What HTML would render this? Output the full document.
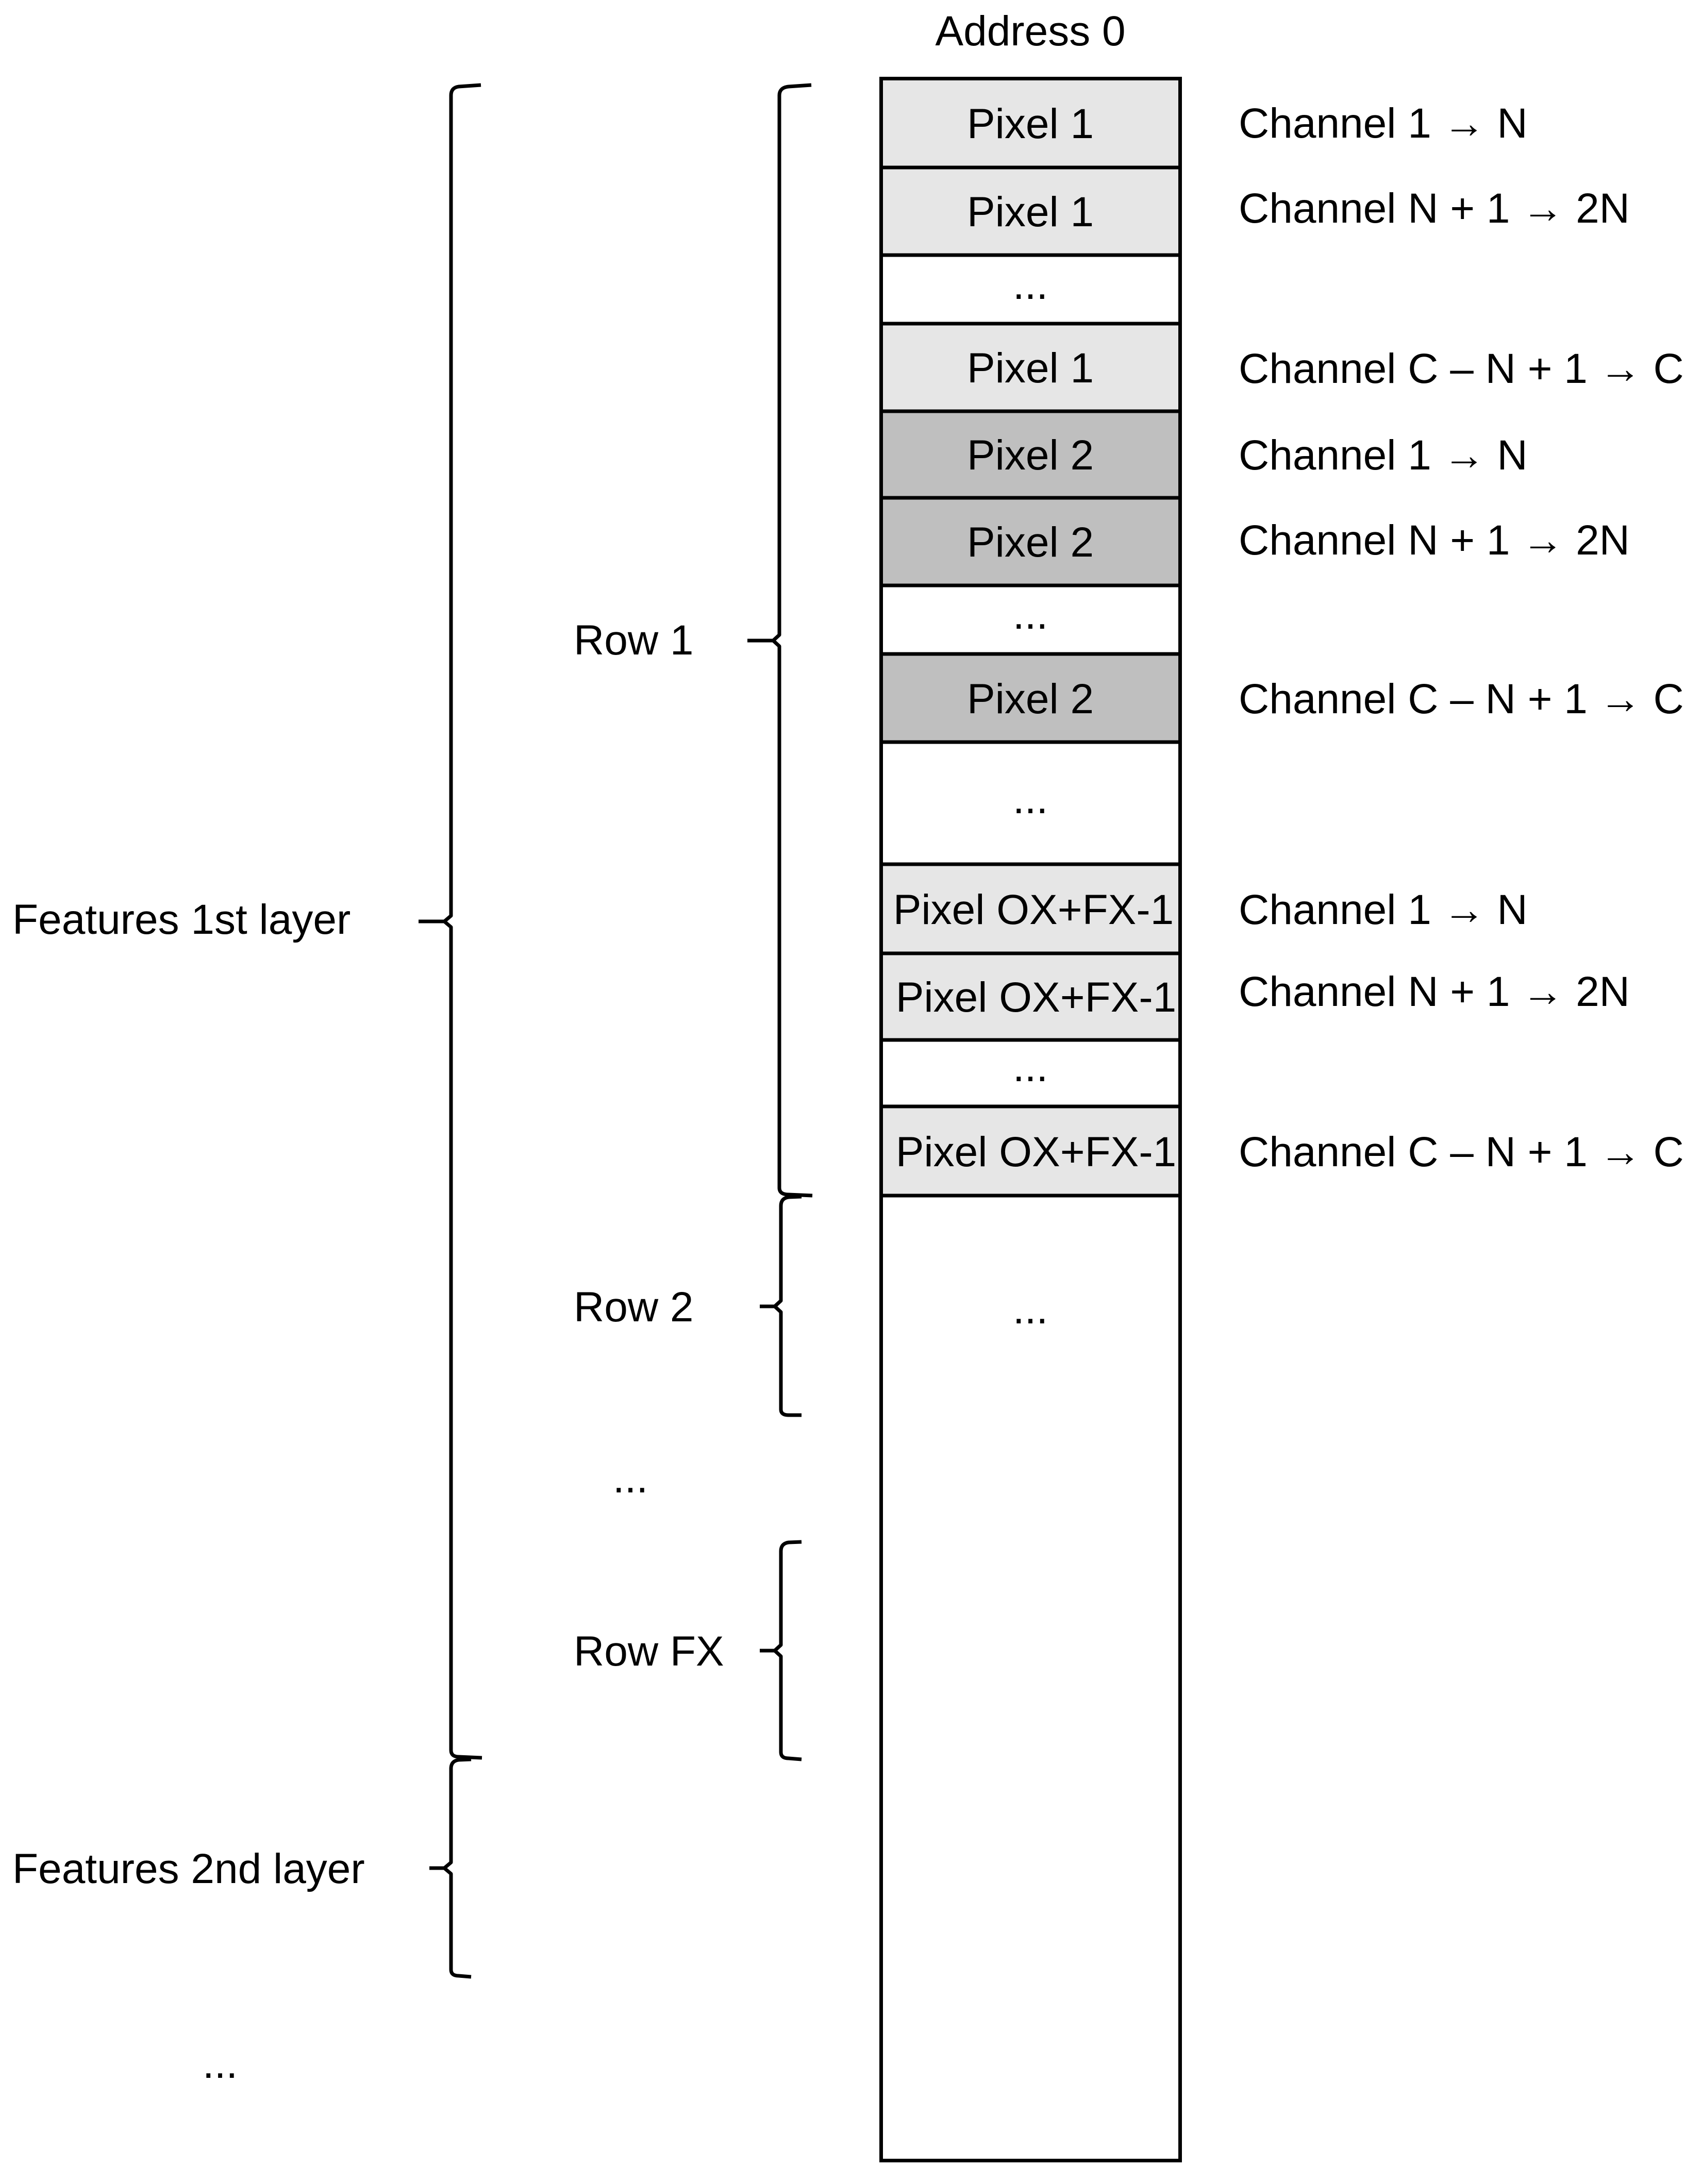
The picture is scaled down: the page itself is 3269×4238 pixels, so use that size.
<!DOCTYPE html>
<html><head><meta charset="utf-8"><style>
html,body{margin:0;padding:0;background:#fff;}
svg{display:block;}
text{font-family:"Liberation Sans",sans-serif;font-size:82px;fill:#000;}
</style></head><body>
<svg width="3269" height="4238" viewBox="0 0 3269 4238" xmlns="http://www.w3.org/2000/svg">
<!-- cell fills -->
<rect x="1709" y="153" width="580" height="172" fill="#e6e6e6"/>
<rect x="1709" y="325" width="580" height="170" fill="#e6e6e6"/>
<rect x="1709" y="628" width="580" height="170" fill="#e6e6e6"/>
<rect x="1709" y="798" width="580" height="168" fill="#bfbfbf"/>
<rect x="1709" y="966" width="580" height="170" fill="#bfbfbf"/>
<rect x="1709" y="1269" width="580" height="171" fill="#bfbfbf"/>
<rect x="1709" y="1677" width="580" height="173" fill="#e6e6e6"/>
<rect x="1709" y="1850" width="580" height="168" fill="#e6e6e6"/>
<rect x="1709" y="2147" width="580" height="173" fill="#e6e6e6"/>
<!-- column outline -->
<rect x="1709.5" y="152.5" width="580" height="4040" fill="none" stroke="#000" stroke-width="7"/>
<g stroke="#000" stroke-width="7">
<line x1="1706" x2="2293" y1="325" y2="325"/>
<line x1="1706" x2="2293" y1="495" y2="495"/>
<line x1="1706" x2="2293" y1="628" y2="628"/>
<line x1="1706" x2="2293" y1="798" y2="798"/>
<line x1="1706" x2="2293" y1="966" y2="966"/>
<line x1="1706" x2="2293" y1="1136" y2="1136"/>
<line x1="1706" x2="2293" y1="1269" y2="1269"/>
<line x1="1706" x2="2293" y1="1440" y2="1440"/>
<line x1="1706" x2="2293" y1="1677" y2="1677"/>
<line x1="1706" x2="2293" y1="1850" y2="1850"/>
<line x1="1706" x2="2293" y1="2018" y2="2018"/>
<line x1="1706" x2="2293" y1="2147" y2="2147"/>
<line x1="1706" x2="2293" y1="2320" y2="2320"/>
</g>
<!-- brackets -->
<g fill="none" stroke="#000" stroke-width="7" stroke-linejoin="round">
<!-- Row 1 -->
<path d="M1574 165 L1530 168 Q1512 170 1512 185 L1512 1232 L1500 1243 L1450 1243 M1500 1243 L1512 1254 L1512 2305 Q1512 2318 1530 2318 L1576 2320"/>
<!-- Row 2 -->
<path d="M1555 2322 L1530 2323 Q1515 2325 1515 2340 L1515 2524 L1503 2535 L1474 2535 M1503 2535 L1515 2546 L1515 2735 Q1515 2746 1530 2746 L1555 2746"/>
<!-- Row FX -->
<path d="M1555 2992 L1530 2993 Q1515 2995 1515 3010 L1515 3192 L1503 3203 L1474 3203 M1503 3203 L1515 3214 L1515 3400 Q1515 3412 1530 3412 L1555 3414"/>
<!-- Features 1st -->
<path d="M933 165 L890 168 Q875 170 875 185 L875 1777 L862 1788 L812 1788 M862 1788 L875 1799 L875 3396 Q875 3409 890 3409 L935 3411"/>
<!-- Features 2nd -->
<path d="M914 3414 L890 3415 Q875 3417 875 3432 L875 3614 L862 3625 L833 3625 M862 3625 L875 3636 L875 3822 Q875 3834 890 3834 L914 3836"/>
</g>
<!-- column texts -->
<g text-anchor="middle">
<text x="1999" y="88">Address 0</text>
<text x="1999" y="268">Pixel 1</text>
<text x="1999" y="439">Pixel 1</text>
<text x="1999" y="580">...</text>
<text x="1999" y="742">Pixel 1</text>
<text x="1999" y="911">Pixel 2</text>
<text x="1999" y="1080">Pixel 2</text>
<text x="1999" y="1220">...</text>
<text x="1999" y="1384">Pixel 2</text>
<text x="1999" y="1578">...</text>
<text x="2005" y="1793">Pixel OX+FX-1</text>
<text x="2010" y="1963">Pixel OX+FX-1</text>
<text x="1999" y="2098">...</text>
<text x="2010" y="2263">Pixel OX+FX-1</text>
<text x="1999" y="2568">...</text>
<text x="1223" y="2896">...</text>
<text x="427" y="4032">...</text>
</g>
<!-- channel labels -->
<g>
<text x="2403" y="267">Channel 1 → N</text>
<text x="2403" y="432">Channel N + 1 → 2N</text>
<text x="2403" y="743">Channel C – N + 1 → C</text>
<text x="2403" y="911">Channel 1 → N</text>
<text x="2403" y="1076">Channel N + 1 → 2N</text>
<text x="2403" y="1384">Channel C – N + 1 → C</text>
<text x="2403" y="1793">Channel 1 → N</text>
<text x="2403" y="1952">Channel N + 1 → 2N</text>
<text x="2403" y="2263">Channel C – N + 1 → C</text>
</g>
<!-- left labels -->
<g>
<text x="1113" y="1270">Row 1</text>
<text x="1113" y="2564">Row 2</text>
<text x="1113" y="3232">Row FX</text>
<text x="24" y="1812">Features 1st layer</text>
<text x="24" y="3654">Features 2nd layer</text>
</g>
</svg>
</body></html>
